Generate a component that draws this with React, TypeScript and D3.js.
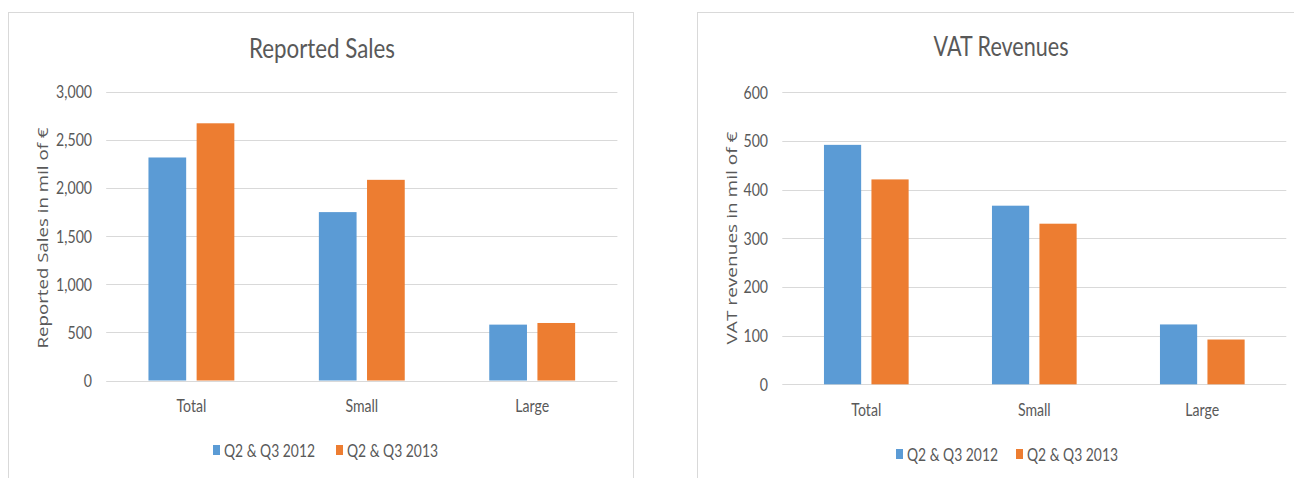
import React from "react";
import * as d3 from "d3";

const categories = ["Total", "Small", "Large"];
const seriesNames = ["Q2 & Q3 2012", "Q2 & Q3 2013"];
const seriesColors = ["#5B9BD5", "#ED7D31"];

const sales2012 = [2315, 1748, 580];
const sales2013 = [2670, 2083, 597];
const salesTicks = [0, 500, 1000, 1500, 2000, 2500, 3000];

const vat2012 = [492, 367, 123];
const vat2013 = [421, 330, 92];
const vatTicks = [0, 100, 200, 300, 400, 500, 600];

const TEXT = "#595959";
const GRID = "#D9D9D9";
const FONT = "Lato, 'Open Sans', sans-serif";

type ChartProps = {
  title: string;
  titleX: number;
  titleY: number;
  titleLen: number;
  axisTitle: string;
  axisTitleX: number;
  axisTitleY: number;
  axisTitleLen: number;
  series: number[][];
  ticks: number[];
  xRange: [number, number];
  yRange: [number, number];
  tickX: number;
  catY: number;
  legendY: number;
  legendX: number[];
  boxX: number;
  boxW: number;
};

function Squeezed({ x, y, anchor, children, size = 17, sx = 0.83, baseline = "auto" }: any) {
  return (
    <g transform={`translate(${x},${y}) scale(${sx},1)`}>
      <text
        x={0}
        y={0}
        textAnchor={anchor}
        dominantBaseline={baseline}
        fontFamily={FONT}
        fontSize={size}
        fill={TEXT}
      >
        {children}
      </text>
    </g>
  );
}

function Chart(p: ChartProps) {
  const x0 = d3.scaleBand<string>().domain(categories).range(p.xRange).paddingInner(0).paddingOuter(0);
  const step = x0.step();
  const x1 = d3
    .scaleBand<string>()
    .domain(seriesNames)
    .range([step * 0.248, step * 0.752])
    .paddingInner(0.217)
    .paddingOuter(0);
  const y = d3.scaleLinear().domain([p.ticks[0], p.ticks[p.ticks.length - 1]]).range(p.yRange);
  const fmt = d3.format(",");

  return (
    <g>
      <rect x={p.boxX + 0.5} y={12.5} width={p.boxW} height={520} fill="#fff" stroke={GRID} strokeWidth={1} />
      <text
        x={p.titleX}
        y={p.titleY}
        textAnchor="middle"
        fontFamily={FONT}
        fontSize={26}
        fill={TEXT}
        textLength={p.titleLen}
        lengthAdjust="spacingAndGlyphs"
      >
        {p.title}
      </text>
      {p.ticks.map((t) => (
        <g key={t}>
          <line
            x1={p.xRange[0]}
            x2={p.xRange[1]}
            y1={Math.round(y(t)) + 0.5}
            y2={Math.round(y(t)) + 0.5}
            stroke={GRID}
            strokeWidth={1}
          />
          <Squeezed x={p.tickX} y={y(t)} anchor="end" baseline="central">
            {fmt(t)}
          </Squeezed>
        </g>
      ))}
      {categories.map((c, i) => (
        <g key={c}>
          {seriesNames.map((s, j) => {
            const v = p.series[j][i];
            return (
              <rect
                key={s}
                x={(x0(c) as number) + (x1(s) as number)}
                y={y(v)}
                width={x1.bandwidth()}
                height={y(0) - y(v)}
                fill={seriesColors[j]}
              />
            );
          })}
          <Squeezed x={(x0(c) as number) + step / 2} y={p.catY} anchor="middle">
            {c}
          </Squeezed>
        </g>
      ))}
      <text
        transform={`translate(${p.axisTitleX},${p.axisTitleY}) rotate(-90)`}
        textAnchor="middle"
        dominantBaseline="central"
        fontFamily="'Open Sans', sans-serif"
        fontSize={14}
        fill={TEXT}
        textLength={p.axisTitleLen}
        lengthAdjust="spacingAndGlyphs"
      >
        {p.axisTitle}
      </text>
      {seriesNames.map((s, j) => (
        <g key={s}>
          <rect x={p.legendX[j]} y={p.legendY - 5} width={7} height={10} fill={seriesColors[j]} />
          <text
            x={p.legendX[j] + 11}
            y={p.legendY}
            dominantBaseline="central"
            fontFamily={FONT}
            fontSize={17}
            fill={TEXT}
            textLength={91}
            lengthAdjust="spacingAndGlyphs"
          >
            {s}
          </text>
        </g>
      ))}
    </g>
  );
}

export default function App() {
  return (
    <svg
      width={1294}
      height={478}
      style={{ position: "absolute", left: 0, top: 0, background: "#fff" }}
    >
      <rect x={0} y={0} width={1294} height={478} fill="#fff" />
      <Chart
        title="Reported Sales"
        titleX={322}
        titleY={58}
        titleLen={146}
        axisTitle="Reported Sales in mil of €"
        axisTitleX={42}
        axisTitleY={238}
        axisTitleLen={221}
        series={[sales2012, sales2013]}
        ticks={salesTicks}
        xRange={[106.2, 617.4]}
        yRange={[380.5, 91.5]}
        tickX={92}
        catY={412}
        legendY={450}
        legendX={[213, 336]}
        boxX={8}
        boxW={625}
      />
      <Chart
        title="VAT Revenues"
        titleX={1001}
        titleY={56}
        titleLen={135}
        axisTitle="VAT revenues in mil of €"
        axisTitleX={731}
        axisTitleY={238}
        axisTitleLen={213}
        series={[vat2012, vat2013]}
        ticks={vatTicks}
        xRange={[782.3, 1286.3]}
        yRange={[384.3, 92.3]}
        tickX={768}
        catY={416}
        legendY={454}
        legendX={[896, 1016]}
        boxX={697}
        boxW={700}
      />
    </svg>
  );
}
